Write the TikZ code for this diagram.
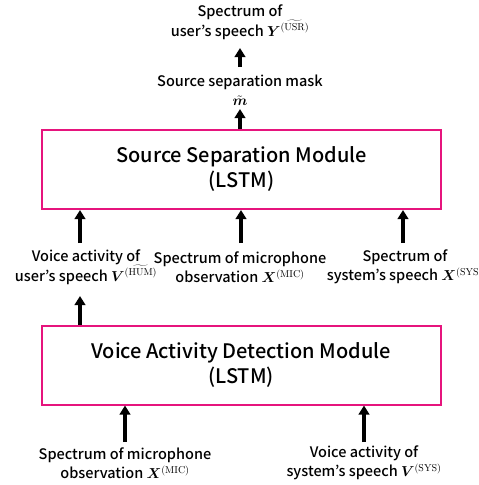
\documentclass[tikz,border=0pt]{standalone}
\usepackage{amsmath,bm}
\usepackage[no-math]{fontspec}
\setmainfont{Noto Sans CJK JP}[UprightFont=* Medium]
\usetikzlibrary{arrows.meta}
\definecolor{boxpink}{RGB}{230,20,125}
\tikzset{
  module/.style={draw=boxpink, line width=2pt, minimum width=399pt, minimum height=79pt,
    align=center, font=\fontsize{20}{25}\selectfont, inner sep=0pt},
  lbl/.style={align=center, font=\fontsize{14.5}{19.5}\selectfont, inner sep=0pt},
  arr/.style={line width=3.5pt, -{Triangle[width=10.5pt,length=9pt]}}
}
\begin{document}
\begin{tikzpicture}[x=1pt,y=-1pt]
\useasboundingbox (0,0) rectangle (479,485);

% modules
\node[module] (ssm) at (241.5,169.5) {Source Separation Module\\(LSTM)};
\node[module] (vad) at (241,365) {Voice Activity Detection Module\\(LSTM)};

% outputs above the separation module
\node[lbl] (mask) at (240,90) {Source separation mask\\$\tilde{\bm{m}}$};
\node[lbl] (usr) at (240,22) {Spectrum of\\user’s speech $\bm{Y}^{\widetilde{(\mathrm{USR})}}$};

% inputs of the separation module
\node[lbl] (hum) at (86,267) {Voice activity of\\user’s speech $\bm{V}^{\widetilde{(\mathrm{HUM})}}$};
\node[lbl] (mic) at (240,267) {Spectrum of microphone\\observation $\bm{X}^{(\mathrm{MIC})}$};
\node[lbl] (sys) at (405,267) {Spectrum of\\system’s speech $\bm{X}^{(\mathrm{SYS})}$};

% inputs of the detection module
\node[lbl] (mic2) at (125,463) {Spectrum of microphone\\observation $\bm{X}^{(\mathrm{MIC})}$};
\node[lbl] (vsys) at (364,463) {Voice activity of\\system’s speech $\bm{V}^{(\mathrm{SYS})}$};

% arrow anchors
\coordinate (t1) at (240,109);
\coordinate (t2a) at (240,67);
\coordinate (t2b) at (240,48);
\coordinate (h1) at (80,243);
\coordinate (m1) at (241,243);
\coordinate (s1) at (403,243);
\coordinate (h2) at (80,296);
\coordinate (b1) at (125,442);
\coordinate (b2) at (364,442);

\draw[arr] (ssm.north -| t1) -- (t1);
\draw[arr] (t2a) -- (t2b);
\draw[arr] (h1) -- (h1 |- ssm.south);
\draw[arr] (m1) -- (m1 |- ssm.south);
\draw[arr] (s1) -- (s1 |- ssm.south);
\draw[arr] (vad.north -| h2) -- (h2);
\draw[arr] (b1) -- (b1 |- vad.south);
\draw[arr] (b2) -- (b2 |- vad.south);
\end{tikzpicture}
\end{document}
